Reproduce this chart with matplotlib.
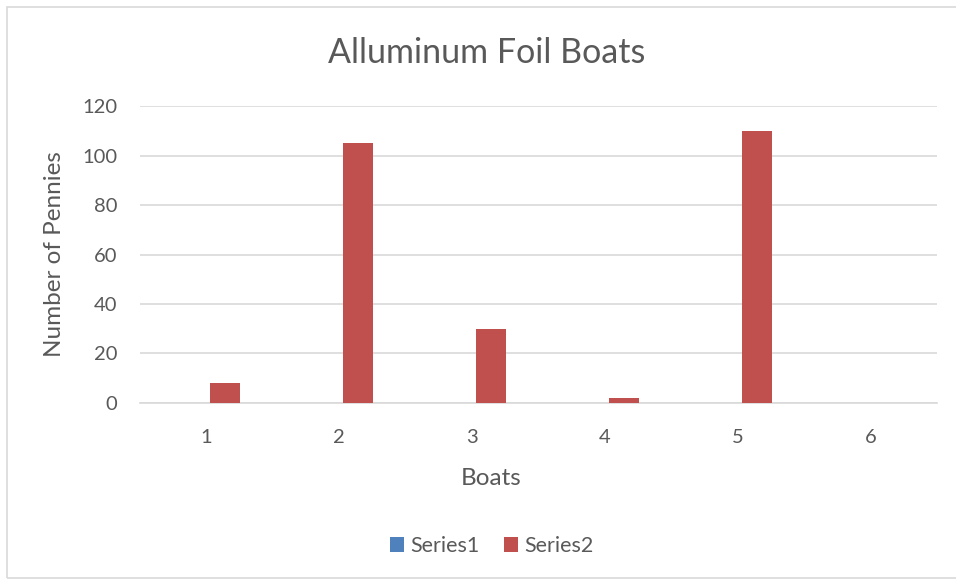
import numpy as np
import matplotlib.pyplot as plt
from matplotlib.patches import Rectangle

plt.rcParams['font.family'] = ['Lato', 'DejaVu Sans']

boats = [1, 2, 3, 4, 5, 6]
series1 = [0, 0, 0, 0, 0, 0]
series2 = [8, 105, 30, 2, 110, 0]
yticks = [0, 20, 40, 60, 80, 100, 120]

fig = plt.figure(figsize=(9.56, 5.8), dpi=100)
ax = fig.add_axes([0.1464, 0.3052, 0.8337, 0.512])

# frame around the whole chart, like the excel chart area
fig.patches.append(Rectangle((7/956, 2/580), 1.0, 571/580, transform=fig.transFigure,
                             fill=False, edgecolor='#d9d9d9', linewidth=1.2))

x = np.arange(len(boats)) + 1
w = 0.226
off = w/2 + 0.03
ax.bar(x - off, series1, w, color='#4f81bd', label='Series1', zorder=3)
ax.bar(x + off, series2, w, color='#c0504d', label='Series2', zorder=3)

ax.set_xlim(0.5, 6.5)
ax.set_ylim(0, 120)
ax.set_xticks(x)
ax.set_xticklabels([str(b) for b in boats])
ax.set_yticks(yticks)
ax.grid(axis='y', color='#d9d9d9', linewidth=1.2, zorder=0)
for s in ['top', 'right', 'left']:
    ax.spines[s].set_visible(False)
ax.spines['bottom'].set_color('#d9d9d9')
ax.spines['bottom'].set_linewidth(1.2)
ax.tick_params(length=0, colors='#595959', labelsize=14.5)
ax.tick_params(axis='x', pad=19)
ax.tick_params(axis='y', pad=16.5)

fig.text(487/956, 1 - 53/580, 'Alluminum Foil Boats', fontsize=24.5, color='#595959',
         ha='center', va='center')
ax.set_xlabel('Boats', fontsize=17.5, color='#595959')
ax.xaxis.set_label_coords(0.44, -0.22)
ax.set_ylabel('Number of Pennies', fontsize=17.5, color='#595959', labelpad=12)

leg = fig.legend(loc='center', bbox_to_anchor=(0.5145, 1 - 546/580), ncol=2, frameon=False,
                 fontsize=15.5, labelcolor='#595959', handlelength=0.65, handleheight=0.65,
                 handletextpad=0.3, columnspacing=1.1)

fig.savefig('out.png', dpi=100)
